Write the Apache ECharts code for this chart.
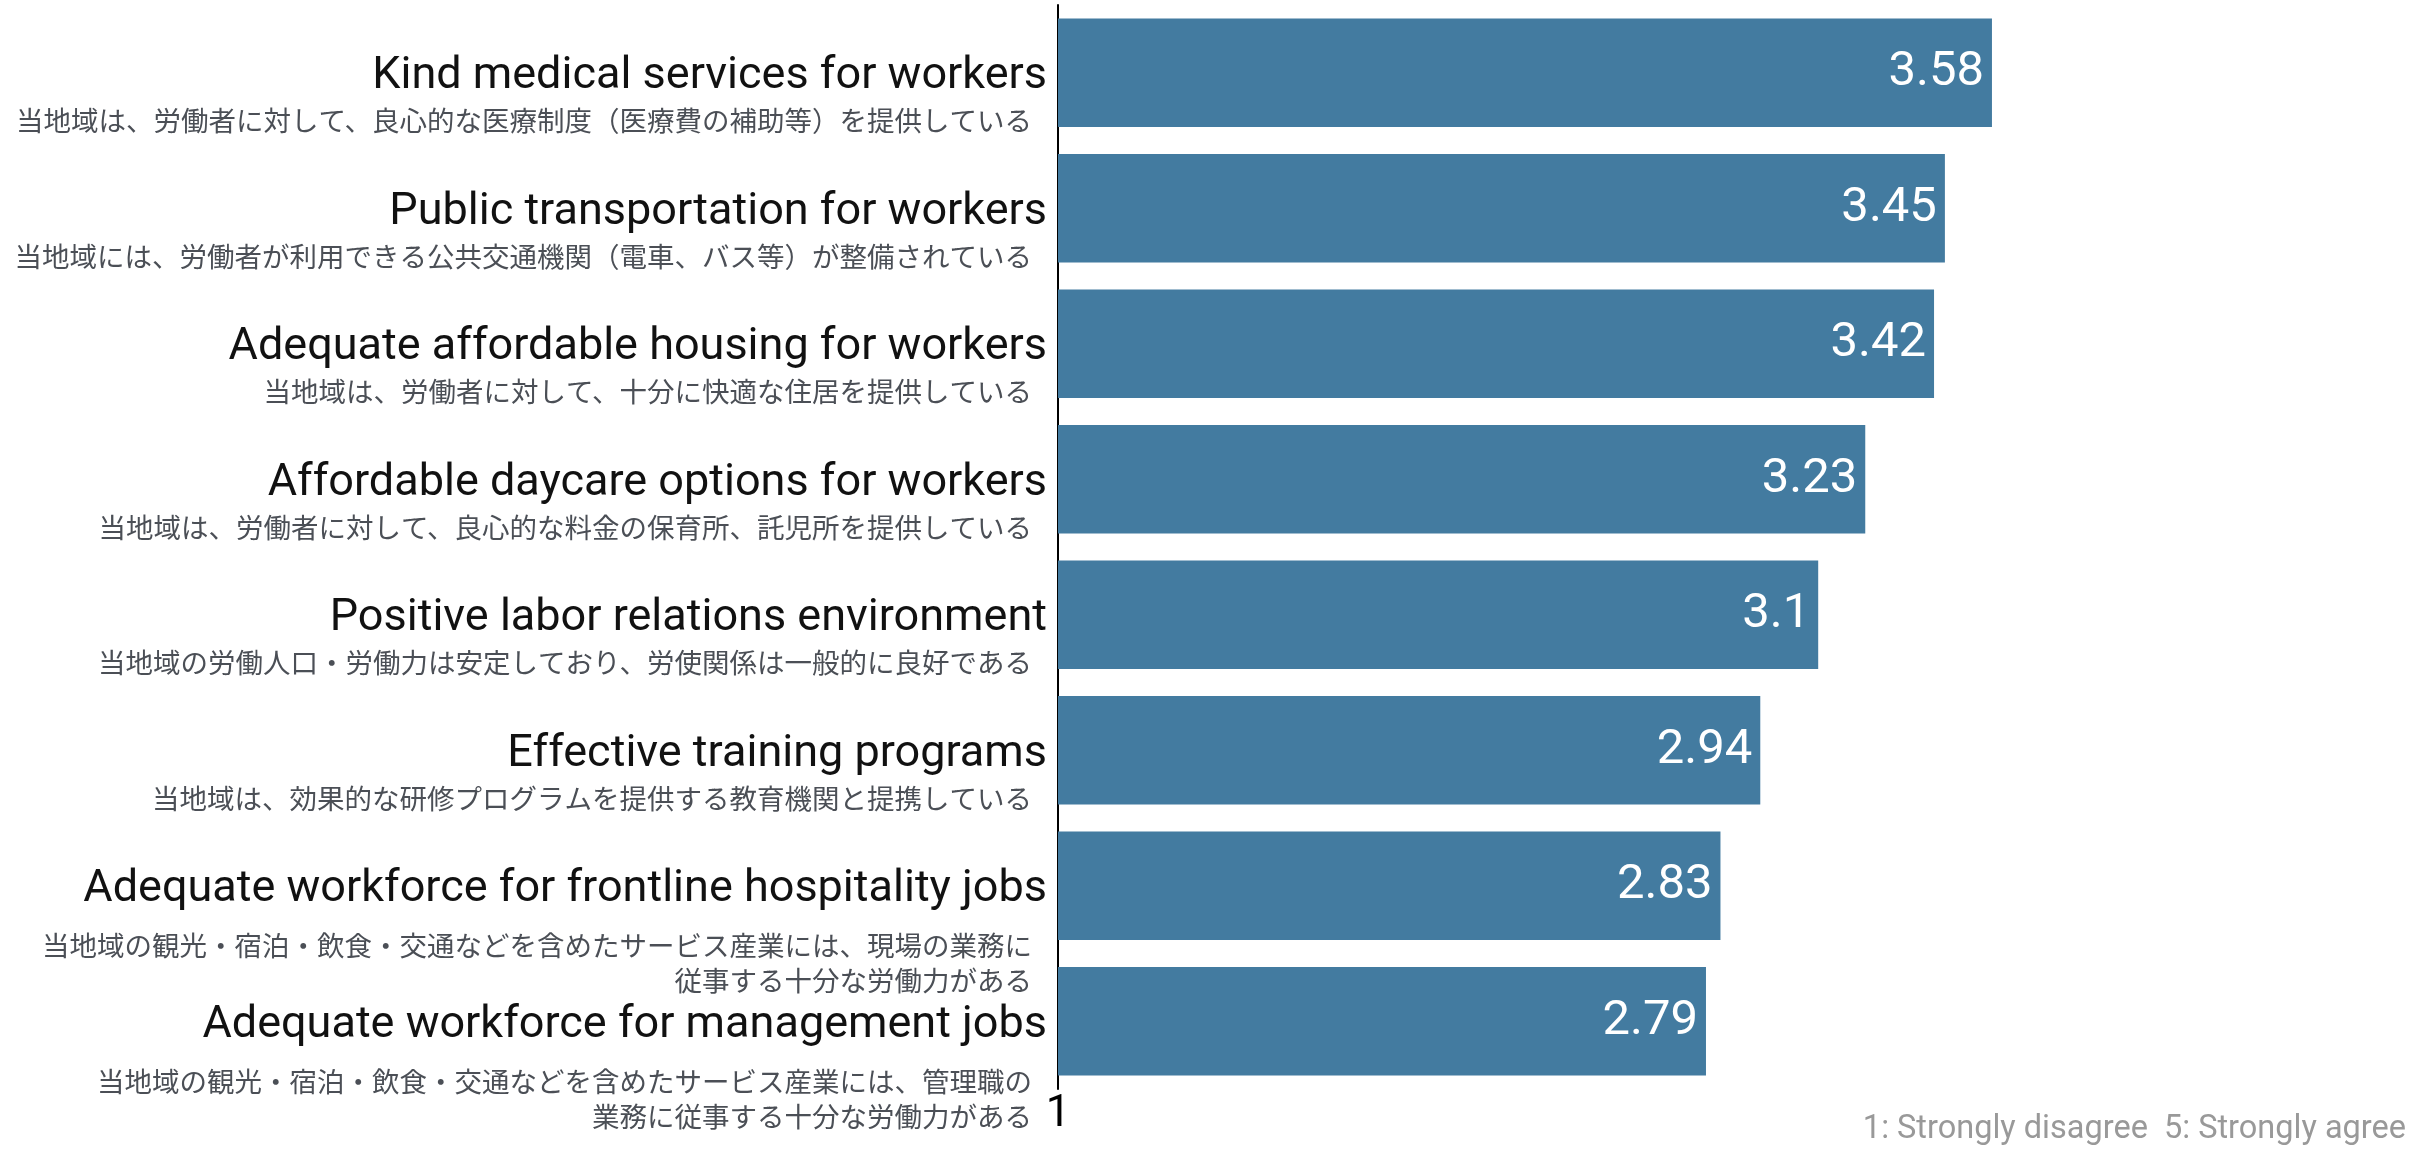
<!DOCTYPE html>
<html>
<head>
<meta charset="utf-8">
<script src="https://cdn.jsdelivr.net/npm/echarts@6/dist/echarts.min.js"></script>
<style>
html,body{margin:0;padding:0;background:#fff;}
#chart{width:2415px;height:1162px;}
</style>
</head>
<body>
<div id="chart"></div>
<script>
const categoriesEn = [
  "Kind medical services for workers",
  "Public transportation for workers",
  "Adequate affordable housing for workers",
  "Affordable daycare options for workers",
  "Positive labor relations environment",
  "Effective training programs",
  "Adequate workforce for frontline hospitality jobs",
  "Adequate workforce for management jobs"
];
const categoriesJa = [
  "当地域は、労働者に対して、良心的な医療制度（医療費の補助等）を提供している",
  "当地域には、労働者が利用できる公共交通機関（電車、バス等）が整備されている",
  "当地域は、労働者に対して、十分に快適な住居を提供している",
  "当地域は、労働者に対して、良心的な料金の保育所、託児所を提供している",
  "当地域の労働人口・労働力は安定しており、労使関係は一般的に良好である",
  "当地域は、効果的な研修プログラムを提供する教育機関と提携している",
  "当地域の観光・宿泊・飲食・交通などを含めたサービス産業には、現場の業務に\n従事する十分な労働力がある",
  "当地域の観光・宿泊・飲食・交通などを含めたサービス産業には、管理職の\n業務に従事する十分な労働力がある"
];
const values = [3.58, 3.45, 3.42, 3.23, 3.1, 2.94, 2.83, 2.79];
const xTickLabels = ["1"];
const footnote = "1: Strongly disagree  5: Strongly agree";

const chart = echarts.init(document.getElementById('chart'), null, {renderer: 'canvas'});
const option = {
  animation: false,
  backgroundColor: '#fff',
  grid: {left: 1058, top: 5, height: 1084, width: 1448, containLabel: false, outerBoundsMode: 'none'},
  xAxis: {
    type: 'value', min: 1, max: 5, interval: 1,
    axisLine: {show: false}, axisTick: {show: false}, splitLine: {show: false},
    axisLabel: {
      margin: 4, fontSize: 44, color: '#000', fontFamily: 'Roboto',
      formatter: function (v) { return xTickLabels.indexOf(String(v)) >= 0 ? String(v) : ''; }
    }
  },
  yAxis: {
    type: 'category', inverse: true, data: categoriesEn,
    axisLine: {show: true, lineStyle: {color: '#000', width: 2}},
    axisTick: {show: false},
    axisLabel: {
      interval: 0, margin: 11, align: 'right', verticalAlign: 'middle',
      formatter: function (value, idx) {
        const ja = categoriesJa[idx].split('\n');
        const two = ja.length > 1;
        return '{' + (two ? 'pad2' : 'pad1') + '| }\n{' + (two ? 'en2' : 'en1') + '|' + value + '}\n' +
          ja.map(function (l) { return '{ja|' + l + '}'; }).join('\n');
      },
      rich: {
        pad1: {lineHeight: 43, fontSize: 10, align: 'right'},
        pad2: {lineHeight: 78, fontSize: 10, align: 'right'},
        en1: {fontSize: 45, lineHeight: 53, color: '#111', fontFamily: 'Roboto', align: 'right'},
        en2: {fontSize: 45, lineHeight: 77, color: '#111', fontFamily: 'Roboto', align: 'right'},
        ja: {fontSize: 27.5, lineHeight: 35, color: '#4b4f56', fontFamily: '"Noto Sans CJK JP"', align: 'right', padding: [0, 15, 0, 0]}
      }
    }
  },
  series: [{
    type: 'bar', data: values, barCategoryGap: '20%',
    itemStyle: {color: '#437ba0'},
    label: {
      show: true, position: 'insideRight', distance: 8,
      color: '#fff', fontSize: 49, fontFamily: 'Roboto'
    }
  }],
  graphic: [{
    type: 'text', right: 9, top: 1113,
    style: {text: footnote, fontSize: 32.5, fill: '#999', fontFamily: 'Roboto'}
  }]
};
chart.setOption(option);
</script>
</body>
</html>
